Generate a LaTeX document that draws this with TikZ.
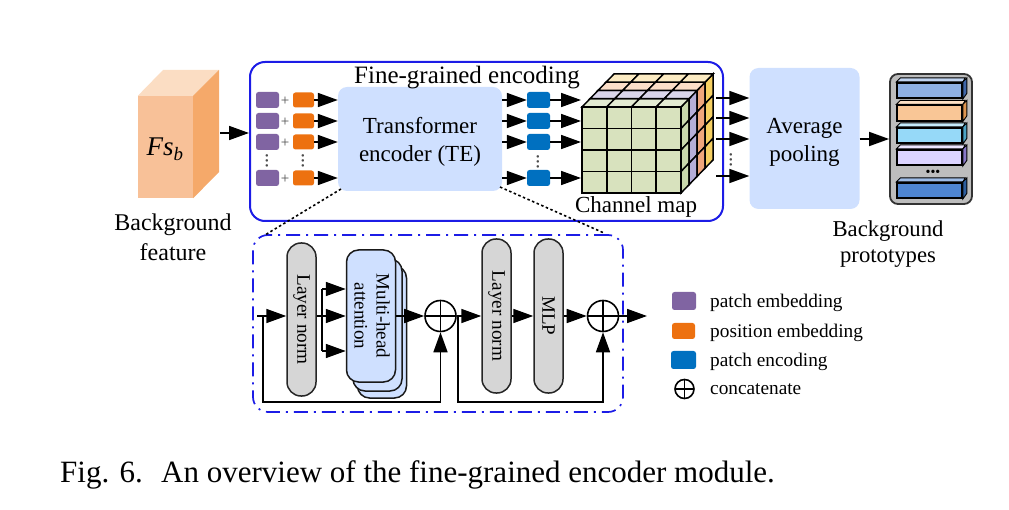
\documentclass[tikz,border=0pt]{standalone}
\usepackage{fontspec}
\setmainfont{Liberation Serif}
\usetikzlibrary{arrows.meta}

\definecolor{teblue}{HTML}{CFE0FF}
\definecolor{patchpurple}{HTML}{8064A2}
\definecolor{posorange}{HTML}{ED7110}
\definecolor{encblue}{HTML}{0070C0}
\definecolor{framecol}{HTML}{1C1CE6}
\definecolor{pillgray}{HTML}{D6D6D6}

\newcommand{\fsize}[1]{\fontsize{#1}{#1}\selectfont}

\tikzset{
  flow/.style={line width=1.7pt, -{Triangle[length=20pt,width=14pt]}},
  chip/.style={rounded corners=2.5pt, inner sep=0pt, minimum height=16pt},
  pill/.style={draw=black!85, fill=pillgray, line width=1.5pt, rounded corners=14pt, minimum width=29pt, inner sep=0pt},
  mhabox/.style={draw=black!90, fill=teblue, line width=1.5pt, rounded corners=12pt, minimum width=49pt, minimum height=132pt, inner sep=0pt},
  sumnode/.style={circle, draw, line width=1.6pt, inner sep=0pt, minimum size=31pt,
    path picture={\draw[line width=1.6pt] (path picture bounding box.north) -- (path picture bounding box.south)
      (path picture bounding box.west) -- (path picture bounding box.east);}},
  softbox/.style={fill=teblue, rounded corners=9pt, inner sep=0pt, align=center},
  vdotsnode/.style={rotate=90, inner sep=0pt, font=\fsize{21}, text=black!70},
  legendtext/.style={anchor=west, inner sep=0pt, font=\fsize{19.3}}
}

\begin{document}
\begin{tikzpicture}[x=1pt, y=-1pt, font=\fsize{23}]
    \useasboundingbox (0,0) rectangle (1009,510);

    \node [fill={rgb,255:red,248;green,193;blue,152}, minimum width=55pt, minimum height=102pt, inner sep=0pt] (feat) at (165.5,147) {};
    \fill [fill={rgb,255:red,251;green,221;blue,195}] (feat.north west) -- (163,70) -- (219,70) -- (feat.north east) -- cycle;
    \fill [fill={rgb,255:red,245;green,169;blue,106}] (feat.north east) -- (219,70) -- (219,172) -- (feat.south east) -- cycle;
    \node [font=\fsize{27}] (featname) at (165,149) {\textit{Fs}\textsubscript{\textit{b}}};
    \node [align=center, font=\fsize{24}] (featlabel) at (173,237) {Background\\[6pt]feature};

    \node [draw=framecol, line width=2pt, rounded corners=15pt, minimum width=473pt, minimum height=159pt, inner sep=0pt] (fine) at (486.5,141.5) {};

    \node [softbox, minimum width=164pt, minimum height=104pt] (te) at (420,139) {};
    \node [align=center] (tetext) at (420,142) {Transformer\\[5pt]encoder (TE)};
    \node [font=\fsize{25}] (finetitle) at (467,78) {Fine-grained encoding};

    \draw [flow] (220,133) -- (fine.west |- 0,133);

    \foreach \y/\n in {100/a,121/b,142/c,178/d} {
        \node [chip, fill=patchpurple, minimum width=23pt] (patch\n) at (267.5,\y) {};
        \node [chip, fill=posorange, minimum width=21pt, minimum height=15pt] (pos\n) at (303.5,\y) {};
        \node [font=\fsize{15}, text=black!70, inner sep=0pt] (plus\n) at (285,{\y+1}) {+};
        \node [chip, fill=encblue, minimum width=23pt] (enc\n) at (538.5,\y) {};
        \draw [flow] (pos\n.east) -- (pos\n.east -| te.west);
        \draw [flow] (enc\n.west -| te.east) -- (enc\n.west);
        \draw [flow] (enc\n.east) -- (581,\y);
    }
    \node [vdotsnode] (dotsa) at (267,161) {...};
    \node [vdotsnode] (dotsb) at (303,161) {...};
    \node [vdotsnode] (dotsc) at (538,162) {...};

    \foreach \k/\t/\s in {0/E3EBD2/C9D8AC,1/DAD6EA/B5AED8,2/FBDEC8/EFA67C,3/FCEBC2/F5CF62} {
        \definecolor{topcol}{HTML}{\t}
        \definecolor{sidecol}{HTML}{\s}
        \foreach \i in {0,1,2,3} {
            \draw [fill=topcol, line width=1.5pt]
                ({582+24.75*\i+8*\k},{107-8.25*\k}) -- ({582+24.75*(\i+1)+8*\k},{107-8.25*\k})
                -- ({582+24.75*(\i+1)+8*(\k+1)},{107-8.25*(\k+1)}) -- ({582+24.75*\i+8*(\k+1)},{107-8.25*(\k+1)}) -- cycle;
            \draw [fill=sidecol, line width=1.5pt]
                ({681+8*\k},{107+21.5*\i-8.25*\k}) -- ({681+8*(\k+1)},{107+21.5*\i-8.25*(\k+1)})
                -- ({681+8*(\k+1)},{107+21.5*(\i+1)-8.25*(\k+1)}) -- ({681+8*\k},{107+21.5*(\i+1)-8.25*\k}) -- cycle;
        }
    }
    \node [draw, fill={rgb,255:red,216;green,226;blue,190}, line width=1.8pt, minimum width=99pt, minimum height=86pt, inner sep=0pt] (cube) at (631.5,150) {};
    \foreach \i in {1,2,3} {
        \draw [line width=1.8pt] ({582+24.75*\i},107) -- ({582+24.75*\i},193);
        \draw [line width=1.8pt] (582,{107+21.5*\i}) -- (681,{107+21.5*\i});
    }
    \node (cubelabel) at (636,207) {Channel map};

    \node [softbox, minimum width=110pt, minimum height=141pt] (pool) at (804.5,138.5) {};
    \node [align=center] (pooltext) at (804.5,142) {Average\\[5pt]pooling};
    \foreach \y/\n in {98/a,118/b,139/c,176/d} {
        \coordinate (cubeout\n) at (716,\y);
        \draw [flow] (cubeout\n) -- (cubeout\n -| pool.west);
    }
    \node [vdotsnode] (dotsd) at (731,160) {...};

    \node [draw=black!80, fill=black!26, line width=1.8pt, rounded corners=8pt, minimum width=82pt, minimum height=130pt, inner sep=0pt] (proto) at (931,139) {};
    \draw [flow] (pool.east |- proto.west) -- (proto.west);
    \foreach \y/\n/\c/\d in {90.5/a/8EB0E3/3F66A8,113/b/F9C696/DD9550,135.5/c/96D9F8/4BA3C4,157.5/d/DCD4FF/8878C8,190.5/e/4E85D1/2C5E9E} {
        \definecolor{barcol}{HTML}{\c}
        \definecolor{barside}{HTML}{\d}
        \node [draw, fill=barcol, line width=1.6pt, minimum width=65pt, minimum height=15.5pt, inner sep=0pt] (bar\n) at (929.5,\y) {};
        \draw [fill=barcol!55!white, line width=0.9pt] (bar\n.north west) -- ++(4,-4) -- ++(65,0) -- (bar\n.north east) -- cycle;
        \draw [fill=barside, line width=0.9pt] (bar\n.north east) -- ++(4,-4) -- ++(0,15.5) -- (bar\n.south east) -- cycle;
    }
    \node [font=\fsize{14}, inner sep=0pt] (bardots) at (933,173) {\textbullet\textbullet\textbullet};
    \node [align=center, font=\fsize{22.7}] (protolabel) at (888,244) {Background\\[3pt]prototypes};

    \node [draw=framecol, line width=1.7pt, dash pattern=on 14pt off 6pt on 2pt off 6pt, rounded corners=15pt, minimum width=370pt, minimum height=177pt, inner sep=0pt] (zoomed) at (438,323.5) {};
    \coordinate (dotstartA) at (341,189);
    \coordinate (dotendA) at (265,235);
    \coordinate (dotstartB) at (500,187);
    \coordinate (dotendB) at (604,233);
    \draw [line width=1.6pt, dash pattern=on 2.5pt off 2.5pt] (dotstartA) -- (dotendA);
    \draw [line width=1.6pt, dash pattern=on 2.5pt off 2.5pt] (dotstartB) -- (dotendB);

    \node [pill, minimum height=153pt] (normA) at (301.5,319.5) {};
    \node [rotate=-90, font=\fsize{19.2}] (normAtext) at (normA) {Layer norm};
    \node [mhabox] (mhaC) at (382,332) {};
    \node [mhabox] (mhaB) at (377.5,325) {};
    \node [mhabox] (mha) at (371,316) {};
    \node [rotate=-90, align=center, font=\fsize{19}] (mhatext) at (372,316) {Multi-head\\[3pt]attention};
    \node [sumnode] (sumA) at (440.5,316) {};
    \node [pill, minimum height=154pt] (normB) at (496.5,316) {};
    \node [rotate=-90, font=\fsize{19.2}] (normBtext) at (normB) {Layer norm};
    \node [pill, minimum height=154pt] (mlp) at (548.5,316) {};
    \node [rotate=-90, font=\fsize{19}] (mlptext) at (mlp) {MLP};
    \node [sumnode] (sumB) at (603,316) {};

    \coordinate (input) at (257,316);
    \coordinate (output) at (647,316);
    \coordinate (skipA) at (263,316);
    \coordinate (skipAlow) at (263,402);
    \coordinate (skipB) at (458,316);
    \coordinate (skipBlow) at (458,402);
    \coordinate (forktop) at (322,289);
    \coordinate (forkbot) at (322,351);

    \draw [flow] (input) -- (input -| normA.west);
    \draw [flow] (normA.east |- 0,316) -- (mha.west |- 0,316);
    \draw [flow] (forktop) -- (forktop -| mha.west);
    \draw [flow] (forkbot) -- (forkbot -| mha.west);
    \draw [line width=1.7pt] (forktop) -- (forkbot);
    \draw [flow] (mha.east |- sumA.west) -- (sumA.west);
    \draw [flow] (sumA.east) -- (sumA.east -| normB.west);
    \draw [flow] (normB.east |- mlp.west) -- (mlp.west);
    \draw [flow] (mlp.east) -- (sumB.west);
    \draw [flow] (sumB.east) -- (output);
    \draw [flow] (skipA) -- (skipAlow) -| (sumA.south);
    \draw [flow] (skipB) -- (skipBlow) -| (sumB.south);

    \node [chip, fill=patchpurple, minimum width=24pt, minimum height=18pt] (keypatch) at (684,301) {};
    \node [chip, fill=posorange, minimum width=23pt, minimum height=16pt] (keypos) at (683.5,331) {};
    \node [chip, fill=encblue, minimum width=25pt, minimum height=18pt] (keyenc) at (683.5,360) {};
    \node [sumnode, minimum size=19pt] (keysum) at (684.5,389) {};
    \node [legendtext] (keypatchtext) at (710,303) {patch embedding};
    \node [legendtext] (keypostext) at (710,333) {position embedding};
    \node [legendtext] (keyenctext) at (710,362) {patch encoding};
    \node [legendtext] (keysumtext) at (710,389) {concatenate};

    \node [anchor=base west, inner sep=0pt, font=\fsize{31}] (caption) at (60,482) {Fig. 6.\hspace{8pt} An overview of the fine-grained encoder module.};
\end{tikzpicture}
\end{document}
